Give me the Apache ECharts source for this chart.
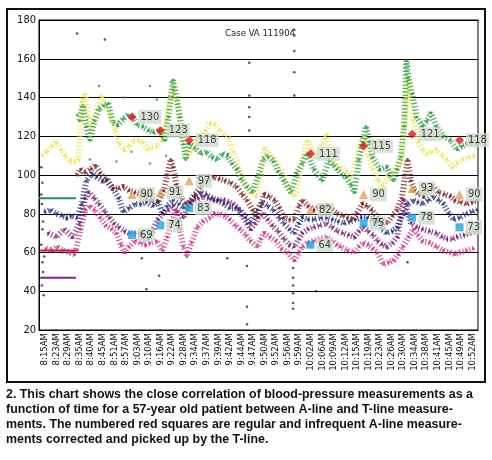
<!DOCTYPE html>
<html>
<head>
<meta charset="utf-8">
<script src="https://cdn.jsdelivr.net/npm/echarts@6/dist/echarts.min.js"></script>
<style>
html,body{margin:0;padding:0;background:#fff;}
#chart{width:492px;height:460px;}
</style>
</head>
<body>
<div id="chart"></div>
<script>
// time labels along the bottom (one per category slot)
var timeLabels = ['8:15AM','8:23AM','8:29AM','8:35AM','8:40AM','8:45AM','8:51AM','8:57AM','9:03AM','9:10AM',
  '9:16AM','9:22AM','9:28AM','9:34AM','9:37AM','9:39AM','9:42AM','9:44AM','9:47AM','9:50AM',
  '9:52AM','9:56AM','9:59AM','10:02AM','10:06AM','10:09AM','10:12AM','10:15AM','10:19AM','10:23AM',
  '10:26AM','10:30AM','10:34AM','10:38AM','10:41AM','10:45AM','10:49AM','10:52AM'];

// positions are in "slot" units: label i sits at i+0.5
var tlineSysGreen = [[3.5,128],[3.8,136],[4.1,125],[4.4,118],[4.8,128],[5.2,134],[5.6,136],[6.0,137],[6.4,127],[6.8,126],
  [7.3,129],[7.7,131],[8.1,130],[8.5,126],[9.0,125],[9.5,123],[9.9,122],[10.5,123],[10.9,118],[11.2,130],
  [11.6,149],[11.9,140],[12.2,130],[12.5,116],[12.7,108],[13.0,116],[13.5,114],[14.0,111],[14.5,112],[15.0,109],
  [15.4,108],[15.9,111],[16.3,110],[16.7,106],[17.1,103],[17.5,98],[18.0,94],[18.5,91],[19.0,100],[19.4,108],
  [19.8,110],[20.3,107],[20.7,102],[21.2,97],[21.8,91],[22.3,101],[22.8,106],[23.2,111],[23.8,103],[24.5,97],
  [25.1,108],[25.5,105],[25.8,103],[26.2,100],[26.6,99],[27.0,95],[27.3,91],[27.7,108],[28.0,117],[28.3,125],
  [28.6,117],[28.9,109],[29.5,103],[30.1,104],[30.7,97],[31.0,103],[31.3,109],[31.6,125],[31.8,159],[32.0,150],
  [32.3,142],[32.7,130],[33.2,125],[33.6,128],[33.9,132],[34.4,125],[35.0,120],[35.6,118],[36.2,113],[36.6,115],
  [37.0,116],[37.5,117],[37.9,116]];

var tlineSysYellow = [[0.3,110],[0.7,112],[1.1,115],[1.5,117],[1.9,113],[2.3,110],[2.7,107],[3.1,107],[3.4,108],[3.7,138],
  [4.0,142],[4.3,130],[4.6,123],[5.0,134],[5.4,141],[5.8,136],[6.2,130],[6.6,123],[7.0,116],[7.4,113],
  [7.8,115],[8.2,118],[8.6,118],[9.0,117],[9.4,113],[9.8,114],[10.2,115],[10.6,118],[11.0,128],[11.4,140],
  [11.7,145],[12.0,136],[12.4,120],[12.8,110],[13.2,112],[13.6,118],[14.0,120],[14.4,123],[14.8,127],[15.2,126],
  [15.6,123],[16.0,121],[16.4,119],[16.8,112],[17.3,104],[17.8,96],[18.3,91],[18.8,89],[19.2,101],[19.5,114],
  [19.9,111],[20.3,109],[20.7,105],[21.1,101],[21.6,94],[22.1,89],[22.5,99],[22.9,110],[23.2,118],[23.6,113],
  [24.0,109],[24.5,116],[24.9,121],[25.3,110],[25.7,105],[26.1,104],[26.6,102],[27.1,99],[27.5,108],[27.8,115],
  [28.1,120],[28.5,110],[28.9,103],[29.4,97],[29.8,94],[30.2,99],[30.6,101],[31.0,103],[31.4,108],[31.7,130],
  [31.9,150],[32.1,140],[32.4,128],[32.8,117],[33.2,113],[33.6,111],[34.0,112],[34.4,113],[34.9,110],[35.3,108],
  [35.8,104],[36.2,106],[36.7,108],[37.2,109],[37.7,110]];

var tlineMeanMaroon = [[3.3,100],[3.6,103],[4.0,101],[4.5,103],[4.9,105],[5.3,101],[5.8,97],[6.4,93],[6.9,93],[7.3,94],
  [7.8,92],[8.3,91],[8.8,90],[9.3,89],[9.8,87],[10.3,86],[10.8,92],[11.1,100],[11.4,108],[11.6,104],
  [11.9,95],[12.3,88],[12.7,85],[13.1,86],[13.5,90],[14.0,94],[14.5,97],[15.1,99],[15.6,98],[16.1,97],
  [16.6,96],[17.1,94],[17.6,90],[18.0,87],[18.5,82],[18.9,78],[19.2,84],[19.5,90],[19.9,89],[20.4,87],
  [20.8,83],[21.2,78],[21.7,77],[22.1,77],[22.5,84],[22.8,87],[23.3,84],[23.8,82],[24.3,83],[24.9,84],
  [25.4,82],[25.8,80],[26.3,79],[26.7,78],[27.1,77],[27.5,80],[28.0,85],[28.4,84],[28.8,82],[29.3,78],
  [29.7,76],[30.1,75],[30.6,79],[31.0,82],[31.4,88],[31.7,100],[31.9,108],[32.2,97],[32.5,92],[32.9,90],
  [33.3,89],[33.7,92],[34.1,94],[34.6,91],[35.1,90],[35.6,89],[36.0,87],[36.5,86],[37.0,85],[37.5,86],[37.9,87]];

var tlineNavy = [[0.5,81],[1.0,82],[1.5,80],[2.0,79],[2.4,78],[2.8,79],[3.3,78],[3.7,85],[4.1,97],[4.6,101],
  [5.0,99],[5.5,97],[5.9,98],[6.4,93],[6.9,88],[7.3,81],[7.8,83],[8.3,85],[8.8,85],[9.3,86],
  [9.9,84],[10.3,86],[10.7,80],[11.1,84],[11.6,87],[12.1,85],[12.5,83],[13.0,86],[13.5,89],[14.0,91],
  [14.5,90],[15.0,88],[15.4,87],[16.0,85],[16.5,83],[17.0,83],[17.4,82],[17.9,78],[18.3,75],[18.9,82],
  [19.3,86],[19.8,84],[20.3,82],[20.8,78],[21.2,75],[21.7,72],[22.1,70],[22.5,75],[22.8,78],[23.3,77],
  [23.8,77],[24.4,78],[24.9,78],[25.4,77],[25.9,76],[26.4,75],[26.9,76],[27.4,77],[27.9,78],[28.4,78],
  [28.9,77],[29.3,76],[29.7,72],[30.1,70],[30.6,71],[31.0,73],[31.5,80],[31.9,85],[32.4,87],[32.8,86],
  [33.2,85],[33.7,87],[34.1,89],[34.6,87],[35.0,85],[35.5,80],[35.9,77],[36.4,78],[37.0,80],[37.5,81],[37.9,82]];

var tlinePurple = [[0.8,70],[1.5,68],[2.2,72],[2.9,68],[3.5,75],[4.0,88],[4.3,91],[4.8,88],[5.2,85],[5.7,81],
  [6.1,78],[6.5,75],[6.9,73],[7.4,71],[7.8,70],[8.3,70],[8.7,70],[9.1,68],[9.5,67],[9.9,72],
  [10.3,77],[10.7,80],[11.2,82],[11.6,84],[12.0,81],[12.5,78],[12.9,83],[13.3,87],[13.8,88],[14.2,89],
  [14.7,88],[15.1,87],[15.6,87],[16.0,87],[16.4,86],[16.8,85],[17.2,83],[17.6,79],[18.0,75],[18.3,72],
  [18.7,75],[19.0,78],[19.4,80],[19.8,77],[20.2,74],[20.7,71],[21.2,67],[21.7,64],[22.1,63],[22.5,67],
  [22.8,70],[23.3,72],[23.8,73],[24.3,74],[24.9,75],[25.4,73],[25.8,71],[26.3,70],[26.8,69],[27.3,68],
  [27.7,71],[28.1,73],[28.5,71],[28.9,69],[29.3,66],[29.7,64],[30.1,63],[30.6,65],[31.0,68],[31.3,78],
  [31.6,87],[31.9,80],[32.2,75],[32.7,73],[33.2,72],[33.8,71],[34.4,70],[34.9,68],[35.3,67],[35.8,67],
  [36.2,68],[36.8,69],[37.3,70],[37.8,71]];

var tlineMagenta = [[0.6,62],[1.1,61],[1.6,63],[2.1,61],[2.6,60],[3.1,59],[3.6,72],[4.0,82],[4.4,84],[4.8,82],
  [5.3,78],[5.8,74],[6.3,72],[6.7,70],[7.1,64],[7.4,60],[7.8,63],[8.3,66],[8.8,65],[9.2,64],
  [9.6,65],[10.2,66],[10.7,61],[11.1,68],[11.5,76],[11.9,82],[12.2,72],[12.5,63],[12.8,58],[13.2,65],
  [13.7,73],[14.2,76],[14.8,78],[15.2,80],[15.7,80],[16.1,79],[16.5,77],[17.0,74],[17.4,72],[17.9,69],
  [18.3,66],[18.9,63],[19.2,67],[19.5,70],[20.0,68],[20.5,66],[21.0,62],[21.5,60],[22.1,56],[22.5,60],
  [22.8,63],[23.3,65],[23.8,66],[24.3,67],[24.9,68],[25.4,66],[25.8,64],[26.1,63],[26.7,61],[27.3,60],
  [27.7,63],[28.1,65],[28.5,64],[28.9,62],[29.3,60],[29.8,54],[30.3,55],[30.7,56],[31.1,59],[31.5,63],
  [32.0,68],[32.4,72],[32.8,69],[33.2,66],[33.8,65],[34.4,63],[35.0,61],[35.6,60],[36.0,59],[36.4,60],
  [37.0,61],[37.6,62]];

// stray readings
var strayGreen = [[3.3,131],[4.4,108],[5.2,146],[7.3,140],[6.7,107],[8.0,112],[9.6,146],[9.6,106],[10.2,139],[11.0,110],[19.4,100]];
var strayDark = [[0.2,104],[0.3,96],[0.25,85],[0.35,76],[0.3,72],[0.2,64],[0.3,55],[0.35,50],[0.25,43],[0.4,38],
  [0.45,58],[0.2,90],[3.3,173],[5.7,170],[9.3,41],[10.4,48],[8.9,57],[16.3,57],
  [18.2,158],[18.2,141],[18.2,135],[18.2,130],[18.2,123],[18.0,53],[18.0,32],[18.0,23],
  [22.1,175],[22.1,172],[22.1,164],[22.1,153],[22.1,141],[22.0,52],[22.0,47],[22.0,43],[22.0,39],[22.0,34],[22.0,31],
  [24.0,40],[31.9,55]];

// early flat traces before the T-line locked on
var flatGreen = [[0,88],[3.2,88]];
var flatRed = [[0.1,61],[3.4,61]];
var flatPurple = [[0.1,47],[3.2,47]];

// A-line readings (numbered)
var aLineSys = [[8.05,130],[10.5,123],[13.0,118],[23.5,111],[28.1,115],[32.3,121],[36.4,118]];
var aLineMean = [[8.05,90],[10.5,91],[13.0,97],[23.5,82],[28.1,90],[32.3,93],[36.4,90]];
var aLineDia = [[8.05,69],[10.5,74],[13.0,83],[23.5,64],[28.1,75],[32.3,78],[36.4,73]];

var narrow = "'Liberation Sans Narrow','DejaVu Sans Condensed',sans-serif";
var captionFont = 'bold 12.4px "Liberation Sans", Arial, sans-serif';

function band(data, color) {
  return [{
    type: 'line', xAxisIndex: 1, data: data, showSymbol: false, silent: true,
    lineStyle: {color: color, width: 6, type: [1.2, 2.2], opacity: 0.8}
  }, {
    type: 'scatter', xAxisIndex: 1, data: data, symbolSize: 3, silent: true,
    itemStyle: {color: color}
  }];
}

function marker(data, symbol, size, color) {
  return {
    type: 'scatter', xAxisIndex: 1, data: data, symbol: symbol, symbolSize: size, z: 5,
    itemStyle: {color: color},
    label: {
      show: true, position: 'right', distance: 2,
      formatter: function (p) { return p.value[1]; },
      fontFamily: narrow, fontSize: 11, color: '#111',
      backgroundColor: '#cfdccb', padding: [2, 2, 1, 2]
    }
  };
}

var series = [].concat(
  band(tlineSysYellow, '#efe35a'),
  band(tlineSysGreen, '#1f9a40'),
  band(tlineMagenta, '#d2308a'),
  band(tlinePurple, '#7c1d70'),
  band(tlineNavy, '#1d2a7c'),
  band(tlineMeanMaroon, '#7a1e22'),
  [
    {type: 'line', xAxisIndex: 1, data: flatGreen, showSymbol: false, lineStyle: {color: '#2a8a5c', width: 2}},
    {type: 'line', xAxisIndex: 1, data: flatRed, showSymbol: false, lineStyle: {color: '#d2193f', width: 2}},
    {type: 'line', xAxisIndex: 1, data: flatPurple, showSymbol: false, lineStyle: {color: '#7a2a82', width: 2}},
    {type: 'scatter', xAxisIndex: 1, data: strayGreen, symbolSize: 2.5, itemStyle: {color: '#1f9a40'}},
    {type: 'scatter', xAxisIndex: 1, data: strayDark, symbolSize: 2.5, itemStyle: {color: '#2a1f4a'}},
    marker(aLineSys, 'diamond', 9, '#e3101e'),
    marker(aLineMean, 'triangle', 9, '#e2a052'),
    marker(aLineDia, 'rect', 8, '#1ea2e2')
  ]
);

var chart = echarts.init(document.getElementById('chart'));
chart.setOption({
  backgroundColor: '#fff',
  animation: false,
  title: {
    text: 'Case VA 111904', left: 220, top: 24,
    textStyle: {fontFamily: narrow, fontSize: 9.5, fontWeight: 'normal', color: '#222'}
  },
  grid: {left: 39, top: 20, right: 14, bottom: 130, show: true, borderColor: '#000', borderWidth: 1},
  xAxis: [{
    type: 'category', data: timeLabels, boundaryGap: true,
    axisLine: {lineStyle: {color: '#000'}}, axisTick: {show: false},
    axisLabel: {interval: 0, rotate: 90, fontFamily: narrow, fontSize: 9.5, color: '#111', margin: 3}
  }, {
    type: 'value', min: 0, max: 38, show: false
  }],
  yAxis: {
    type: 'value', min: 20, max: 180, interval: 20,
    axisLine: {show: true, lineStyle: {color: '#000'}}, axisTick: {show: false},
    axisLabel: {fontFamily: narrow, fontSize: 11, color: '#111', margin: 3},
    splitLine: {lineStyle: {color: '#000', width: 1}}
  },
  graphic: [
    {type: 'rect', shape: {x: 7, y: 9, width: 478, height: 373}, style: {fill: null, stroke: '#111', lineWidth: 2}},
    {type: 'text', left: 6, top: 389, style: {text: '2. This chart shows the close correlation of blood-pressure measurements as a', font: captionFont, fill: '#111'}},
    {type: 'text', left: 6, top: 404, style: {text: 'function of time for a 57-year old patient between A-line and T-line measure-', font: captionFont, fill: '#111'}},
    {type: 'text', left: 6, top: 419, style: {text: 'ments. The numbered red squares are regular and infrequent A-line measure-', font: captionFont, fill: '#111'}},
    {type: 'text', left: 6, top: 434, style: {text: 'ments corrected and picked up by the T-line.', font: captionFont, fill: '#111'}}
  ],
  series: series
});
</script>
</body>
</html>
